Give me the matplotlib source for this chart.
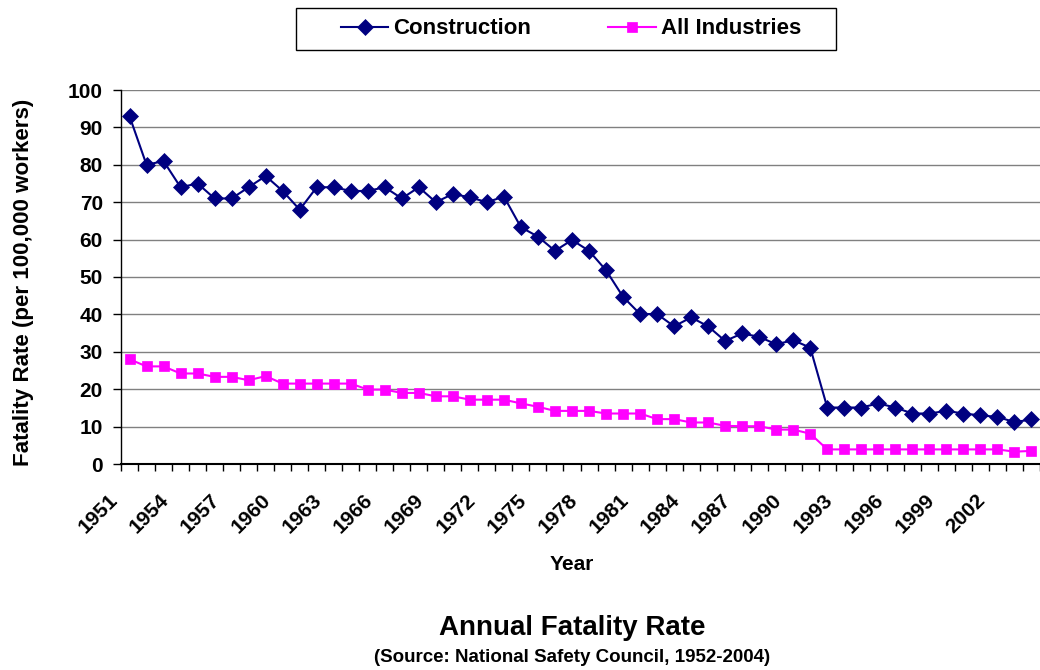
import matplotlib
matplotlib.use("Agg")
import matplotlib.pyplot as plt
import matplotlib.transforms as mtransforms
from matplotlib.patches import Rectangle

plt.rcParams['font.family'] = ['Liberation Sans', 'DejaVu Sans']
plt.rcParams['font.weight'] = 'bold'

# categories: 1951 .. 2004
years = list(range(1951, 2005))

# deaths per 100,000 workers
construction = [93, 80, 81, 74, 75, 71, 71, 74, 77, 73, 68, 74, 74, 73, 73, 74, 71, 74,
                70, 72.2, 71.3, 70, 71.5, 63.3, 60.8, 57, 59.9, 57, 51.8, 44.7, 40.1, 40.1, 36.8, 39.2, 36.8, 32.9,
                34.9, 34, 32, 33.1, 31.1, 15.1, 15.1, 15.1, 16.2, 15.1, 13.5, 13.5, 14.2, 13.5, 13, 12.6, 11.2, 11.9]
all_industries = [28, 26.1, 26.1, 24.2, 24.2, 23.3, 23.3, 22.4, 23.5, 21.5, 21.5, 21.5, 21.5, 21.5, 19.9, 19.9, 19.0, 19.0,
                  18.1, 18.1, 17.2, 17.2, 17.2, 16.2, 15.3, 14.2, 14.2, 14.2, 13.5, 13.5, 13.5, 12.0, 12.0, 11.1, 11.1, 10.2,
                  10.1, 10.1, 9.2, 9.2, 8.1, 3.9, 3.9, 3.9, 3.9, 3.9, 3.9, 3.9, 3.9, 3.9, 3.9, 3.9, 3.3, 3.5]

fig = plt.figure(figsize=(10.4, 6.7), dpi=100)
ax = fig.add_axes([121/1040, 206/670, 919/1040, 374/670])

x = list(range(len(years)))
ax.plot(x, construction, color='#000080', lw=1.5, marker='D', ms=8.5,
        mec='#000080', mew=0.5, label='Construction', clip_on=False, zorder=3)
ax.plot(x, all_industries, color='#FF00FF', lw=1.5, marker='s', ms=7.2,
        mec='#FF00FF', mew=0.5, label='All Industries', clip_on=False, zorder=3)

ax.set_xlim(-0.5, len(years) - 0.5)
ax.set_ylim(0, 100)
ax.set_yticks(range(0, 101, 10))
ax.yaxis.grid(True, color='#808080', lw=1)
ax.set_axisbelow(True)
for s in ['top', 'right']:
    ax.spines[s].set_visible(False)
ax.spines['left'].set_linewidth(1)
ax.spines['bottom'].set_linewidth(1.5)

ax.tick_params(axis='y', length=6, width=1, pad=7, labelsize=15)
# labels every third year at category centres, ticks at category edges
ax.set_xticks(x[::3])
ax.set_xticklabels([str(y) for y in years[::3]], rotation=45, ha='right', fontsize=15)
ax.set_xticks([i - 0.5 for i in range(len(years) + 1)], minor=True)
ax.tick_params(axis='x', which='major', length=0, pad=19)
ax.tick_params(axis='x', which='minor', length=5, width=1)
shift = mtransforms.ScaledTranslation(-0.08, 0, fig.dpi_scale_trans)
for lab in ax.get_xticklabels():
    lab.set_transform(lab.get_transform() + shift)

fig.text(24/1040, 1 - 282/670, 'Fatality Rate (per 100,000 workers)', rotation=90,
         ha='center', va='center', fontsize=16.1, fontweight='bold')
fig.text(572/1040, 1 - 565/670, 'Year', ha='center', va='center', fontsize=15, fontweight='bold')
fig.text(572/1040, 1 - 628/670, 'Annual Fatality Rate', ha='center', va='center', fontsize=20, fontweight='bold')
fig.text(572/1040, 1 - 657/670, '(Source: National Safety Council, 1952-2004)', ha='center', va='center',
         fontsize=13.5, fontweight='bold')

# legend box drawn separately so its padding matches
fig.patches.append(Rectangle((296/1040, 1 - 50/670), 540/1040, 42/670, transform=fig.transFigure,
                             facecolor='white', edgecolor='black', lw=1, zorder=1))
leg = fig.legend(loc='center', bbox_to_anchor=(571/1040, 1 - 29/670), ncol=2, fontsize=16,
                 frameon=False, handlelength=2.15, handletextpad=0.23, columnspacing=3.45,
                 borderpad=0.2)
leg.set_zorder(2)
for t in leg.get_texts():
    t.set_fontweight('bold')

fig.savefig('out.png', dpi=100)
